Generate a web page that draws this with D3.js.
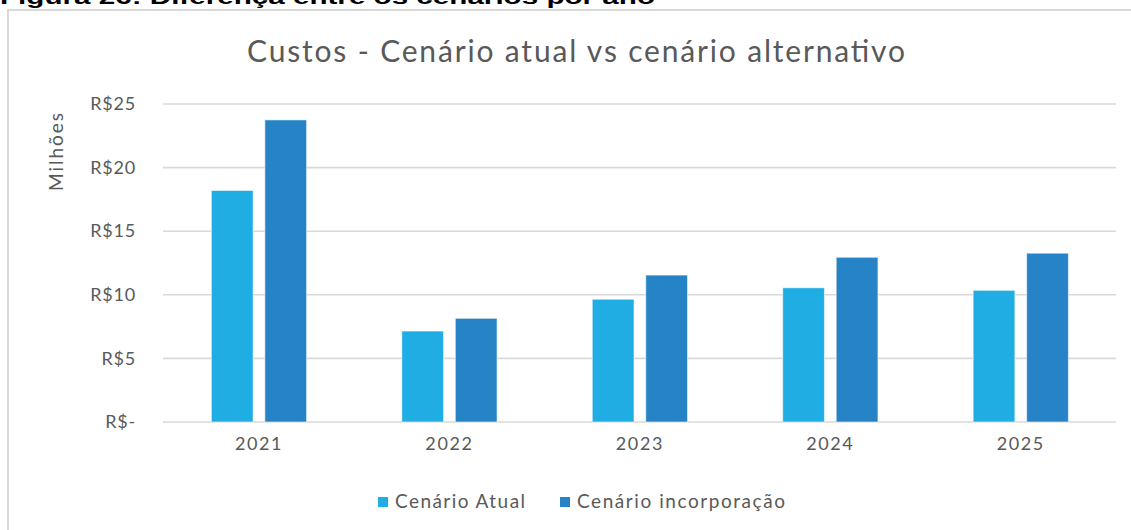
<!DOCTYPE html>
<html>
<head>
<meta charset="utf-8">
<script src="https://cdn.jsdelivr.net/npm/d3@7"></script>
<style>
  body { margin: 0; background: #fff; }
  svg { display: block; }
  text { font-family: Lato, "Open Sans", sans-serif; fill: #595959; }
</style>
</head>
<body>
<svg id="chart" width="1131" height="530"></svg>
<script>
// Data (milhões de R$)
var years = ["2021", "2022", "2023", "2024", "2025"];
var seriesNames = ["Cenário Atual", "Cenário incorporação"];
var atual = [18.2, 7.15, 9.65, 10.55, 10.35];
var incorporacao = [23.75, 8.15, 11.55, 12.95, 13.27];
var yTicks = [0, 5, 10, 15, 20, 25];
var colors = ["#1fade3", "#2683c6"];

var svg = d3.select("#chart");

// Caption (cropped at top of the picture, as in the source)
svg.append("text")
  .attr("x", 0).attr("y", 4)
  .attr("textLength", 655).attr("lengthAdjust", "spacingAndGlyphs")
  .style("font-family", "'Liberation Sans', Arial, sans-serif")
  .style("font-weight", "bold").style("font-size", "21px").style("fill", "#000")
  .text("Figura 26: Diferença entre os cenários por ano");

// Chart frame
svg.append("rect")
  .attr("x", 8).attr("y", 10).attr("width", 1140).attr("height", 540)
  .attr("fill", "none").attr("stroke", "#d9d9d9").attr("stroke-width", 2);

var x0 = d3.scaleBand().domain(years).range([163.75, 1116]).paddingInner(0.5).paddingOuter(0.25);
var x1 = d3.scaleBand().domain(seriesNames).range([0, x0.bandwidth()]).paddingInner(0.22);
var y = d3.scaleLinear().domain([0, 25]).range([422, 104]);

// Title
svg.append("text")
  .attr("x", 576).attr("y", 62).attr("text-anchor", "middle")
  .attr("textLength", 658).attr("lengthAdjust", "spacing")
  .style("font-size", "30px")
  .text("Custos - Cenário atual vs cenário alternativo");

// Gridlines
svg.append("g").selectAll("line").data(yTicks).enter().append("line")
  .attr("x1", 163).attr("x2", 1116)
  .attr("y1", function(d) { return y(d); })
  .attr("y2", function(d) { return y(d); })
  .attr("stroke", "#d9d9d9").attr("stroke-width", 1.6);

// Y axis
var yAxis = d3.axisLeft(y).tickValues(yTicks).tickSize(0).tickPadding(0)
  .tickFormat(function(d) { return d === 0 ? "R$-" : "R$" + d; });
var gy = svg.append("g").attr("transform", "translate(136,0)").call(yAxis);
gy.select(".domain").remove();
gy.selectAll("text").style("font-size", "18px").style("font-family", "Lato, sans-serif")
  .attr("fill", "#595959").attr("letter-spacing", "0.8px");

// X axis
var xAxis = d3.axisBottom(x0).tickSize(0).tickPadding(0);
var gx = svg.append("g").attr("transform", "translate(0,437)").call(xAxis);
gx.select(".domain").remove();
gx.selectAll("text").style("font-size", "18px").style("font-family", "Lato, sans-serif")
  .attr("fill", "#595959").attr("letter-spacing", "1.6px");

// Y axis title
svg.append("text")
  .attr("transform", "translate(63,152) rotate(-90)")
  .attr("text-anchor", "middle")
  .attr("textLength", 78).attr("lengthAdjust", "spacing")
  .style("font-size", "19px")
  .text("Milhões");

// Bars
var rows = years.map(function(yr, i) {
  return { year: yr, values: [
    { name: seriesNames[0], value: atual[i], color: colors[0] },
    { name: seriesNames[1], value: incorporacao[i], color: colors[1] }
  ] };
});

svg.append("g").selectAll("g").data(rows).enter().append("g")
  .attr("transform", function(d) { return "translate(" + x0(d.year) + ",0)"; })
  .selectAll("rect").data(function(d) { return d.values; }).enter().append("rect")
  .attr("x", function(d) { return x1(d.name); })
  .attr("width", x1.bandwidth())
  .attr("y", function(d) { return y(d.value); })
  .attr("height", function(d) { return y(0) - y(d.value); })
  .attr("fill", function(d) { return d.color; })
  .attr("stroke", "#ffffff").attr("stroke-opacity", 0.55).attr("stroke-width", 1);

// Legend
var legendItems = [
  { name: seriesNames[0], color: colors[0], x: 378, w: 130 },
  { name: seriesNames[1], color: colors[1], x: 560, w: 208 }
];
var lg = svg.append("g").selectAll("g").data(legendItems).enter().append("g")
  .attr("transform", function(d) { return "translate(" + d.x + ",497)"; });
lg.append("rect").attr("width", 10).attr("height", 10)
  .attr("fill", function(d) { return d.color; });
lg.append("text").attr("x", 17).attr("y", 11)
  .attr("textLength", function(d) { return d.w; }).attr("lengthAdjust", "spacing")
  .style("font-size", "19px")
  .text(function(d) { return d.name; });
</script>
</body>
</html>
